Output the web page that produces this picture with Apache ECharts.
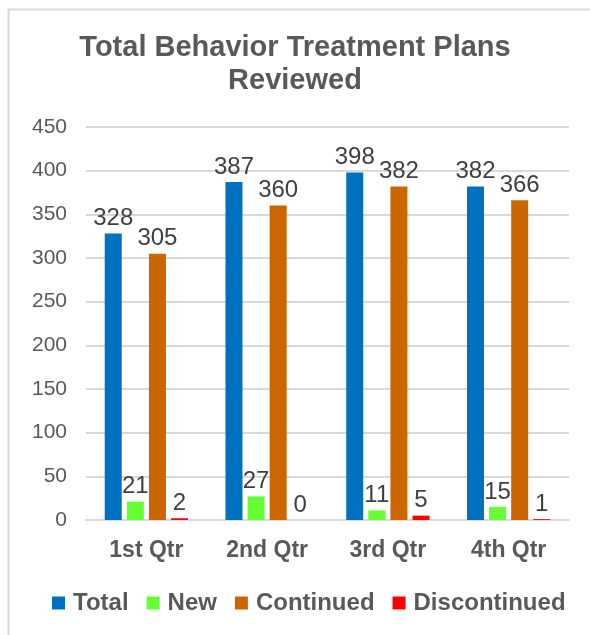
<!DOCTYPE html>
<html>
<head>
<meta charset="utf-8">
<script src="https://cdn.jsdelivr.net/npm/echarts@6/dist/echarts.min.js"></script>
<style>
  html, body { margin: 0; padding: 0; background: #fff; }
  #chart { width: 590px; height: 635px; }
</style>
</head>
<body>
<div id="chart"></div>
<script>
// data
const quarters = ['1st Qtr', '2nd Qtr', '3rd Qtr', '4th Qtr'];
const totalVals = [328, 387, 398, 382];
const newVals = [21, 27, 11, 15];
const continuedVals = [305, 360, 382, 366];
const discontinuedVals = [2, 0, 5, 1];
const yTicks = [0, 50, 100, 150, 200, 250, 300, 350, 400, 450];

const FONT = '"Liberation Sans", Arial, sans-serif';

const chart = echarts.init(document.getElementById('chart'));

function bar(name, data, color) {
  return {
    name: name,
    type: 'bar',
    data: data,
    barWidth: 17,
    barGap: '30%',
    itemStyle: { color: color },
    label: {
      show: true,
      position: 'top',
      distance: 3,
      color: '#404040',
      fontSize: 24,
      fontFamily: FONT
    }
  };
}

const option = {
  animation: false,
  graphic: [{
    type: 'rect',
    left: 6, top: 7,
    shape: { width: 640, height: 660 },
    style: { fill: 'none', stroke: '#D9D9D9', lineWidth: 2 }
  }],
  title: {
    text: 'Total Behavior Treatment Plans\nReviewed',
    left: 'center',
    top: 26,
    textStyle: {
      color: '#595959',
      fontSize: 29,
      fontWeight: 'bold',
      fontFamily: FONT,
      lineHeight: 33
    }
  },
  legend: {
    top: 586,
    left: 47,
    itemWidth: 13,
    itemHeight: 13,
    itemGap: 18,
    icon: 'rect',
    textStyle: { color: '#595959', fontSize: 24, fontWeight: 'bold', fontFamily: FONT, padding: [0, 0, 0, 3] }
  },
  grid: { left: 86, right: 21, top: 127, bottom: 115 },
  xAxis: {
    type: 'category',
    data: quarters,
    axisLine: { lineStyle: { color: '#D9D9D9', width: 2 } },
    axisTick: { show: false },
    axisLabel: { color: '#595959', fontSize: 23, fontWeight: 'bold', fontFamily: FONT, margin: 19 }
  },
  yAxis: {
    type: 'value',
    min: yTicks[0],
    max: yTicks[yTicks.length - 1],
    interval: 50,
    axisLine: { show: false },
    axisTick: { show: false },
    splitLine: { lineStyle: { color: '#D9D9D9', width: 2 } },
    axisLabel: { color: '#595959', fontSize: 21, fontFamily: FONT, margin: 19 }
  },
  series: [
    bar('Total', totalVals, '#0070C0'),
    bar('New', newVals, '#66FF33'),
    bar('Continued', continuedVals, '#CC6600'),
    bar('Discontinued', discontinuedVals, '#FF0000')
  ]
};

chart.setOption(option);
</script>
</body>
</html>
